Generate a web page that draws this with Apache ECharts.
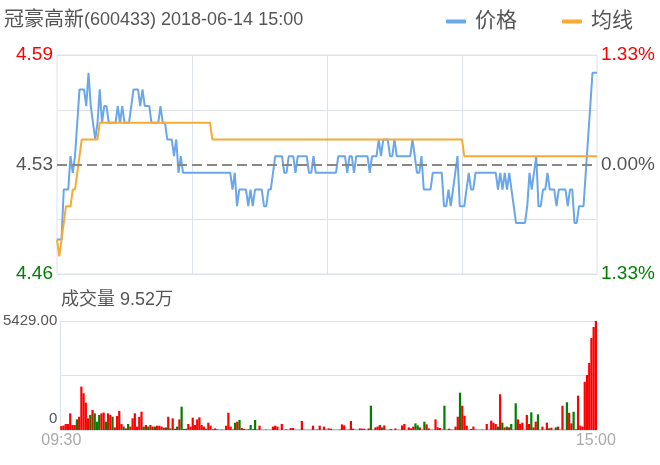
<!DOCTYPE html>
<html><head><meta charset="utf-8">
<script src="https://cdn.jsdelivr.net/npm/echarts@6/dist/echarts.min.js"></script>
<style>html,body{margin:0;padding:0;background:#fff}#c{width:660px;height:465px}</style>
</head><body><div id="c"></div>
<script>
const titleName = '冠豪高新';
const titleRest = '(600433) 2018-06-14 15:00';
const volTitle = '成交量 9.52万';
const seriesNames = ['价格', '均线'];
const preClose = 4.525;
const priceMin = 4.4594, priceMax = 4.5906;
const leftLabels = ['4.46', '', '4.53', '', '4.59'];
const rightLabels = ['1.33%', '', '0.00%', '', '1.33%'];
const volMax = 5429;
const volLabels = { top: '5429.00', bottom: '0' };
const timeLabels = ['09:30', '15:00'];

const price = [
4.48,4.48,4.48,4.51,4.51,4.51,4.53,4.52,4.53,4.55,
4.57,4.57,4.57,4.56,4.58,4.56,4.55,4.54,4.55,4.57,
4.55,4.56,4.56,4.55,4.55,4.55,4.55,4.56,4.55,4.56,
4.55,4.55,4.55,4.56,4.57,4.57,4.57,4.56,4.57,4.56,
4.56,4.56,4.55,4.55,4.55,4.55,4.56,4.55,4.55,4.54,
4.54,4.54,4.53,4.54,4.52,4.53,4.52,4.52,4.52,4.52,
4.52,4.52,4.52,4.52,4.52,4.52,4.52,4.52,4.52,4.52,
4.52,4.52,4.52,4.52,4.52,4.52,4.52,4.52,4.51,4.52,
4.50,4.51,4.51,4.51,4.51,4.50,4.51,4.50,4.51,4.51,
4.51,4.51,4.50,4.50,4.51,4.51,4.52,4.53,4.53,4.53,
4.53,4.52,4.52,4.53,4.53,4.53,4.52,4.53,4.53,4.53,
4.53,4.53,4.52,4.52,4.53,4.52,4.52,4.52,4.52,4.52,
4.52,4.52,4.52,4.52,4.52,4.53,4.53,4.53,4.53,4.52,
4.53,4.53,4.52,4.53,4.53,4.53,4.53,4.53,4.53,4.52,
4.53,4.53,4.53,4.54,4.53,4.54,4.54,4.54,4.53,4.53,
4.54,4.53,4.53,4.53,4.53,4.53,4.53,4.53,4.54,4.53,
4.52,4.52,4.53,4.51,4.51,4.51,4.51,4.52,4.52,4.52,
4.52,4.52,4.50,4.50,4.51,4.50,4.51,4.52,4.53,4.50,
4.50,4.50,4.51,4.52,4.51,4.51,4.52,4.52,4.52,4.52,
4.52,4.52,4.52,4.52,4.52,4.52,4.51,4.52,4.51,4.52,
4.51,4.52,4.51,4.50,4.49,4.49,4.49,4.49,4.49,4.50,
4.52,4.51,4.52,4.53,4.50,4.50,4.51,4.51,4.52,4.51,
4.51,4.51,4.50,4.51,4.51,4.51,4.51,4.50,4.51,4.51,
4.49,4.49,4.50,4.50,4.50,4.52,4.54,4.56,4.58,4.58,
4.58
];

const avgPrice = [
4.48,4.47,4.48,4.49,4.50,4.50,4.50,4.51,4.51,4.52,
4.53,4.54,4.54,4.54,4.54,4.54,4.54,4.54,4.54,4.55,
4.55,4.55,4.55,4.55,4.55,4.55,4.55,4.55,4.55,4.55,
4.55,4.55,4.55,4.55,4.55,4.55,4.55,4.55,4.55,4.55,
4.55,4.55,4.55,4.55,4.55,4.55,4.55,4.55,4.55,4.55,
4.55,4.55,4.55,4.55,4.55,4.55,4.55,4.55,4.55,4.55,
4.55,4.55,4.55,4.55,4.55,4.55,4.55,4.55,4.55,4.54,
4.54,4.54,4.54,4.54,4.54,4.54,4.54,4.54,4.54,4.54,
4.54,4.54,4.54,4.54,4.54,4.54,4.54,4.54,4.54,4.54,
4.54,4.54,4.54,4.54,4.54,4.54,4.54,4.54,4.54,4.54,
4.54,4.54,4.54,4.54,4.54,4.54,4.54,4.54,4.54,4.54,
4.54,4.54,4.54,4.54,4.54,4.54,4.54,4.54,4.54,4.54,
4.54,4.54,4.54,4.54,4.54,4.54,4.54,4.54,4.54,4.54,
4.54,4.54,4.54,4.54,4.54,4.54,4.54,4.54,4.54,4.54,
4.54,4.54,4.54,4.54,4.54,4.54,4.54,4.54,4.54,4.54,
4.54,4.54,4.54,4.54,4.54,4.54,4.54,4.54,4.54,4.54,
4.54,4.54,4.54,4.54,4.54,4.54,4.54,4.54,4.54,4.54,
4.54,4.54,4.54,4.54,4.54,4.54,4.54,4.54,4.54,4.54,
4.54,4.53,4.53,4.53,4.53,4.53,4.53,4.53,4.53,4.53,
4.53,4.53,4.53,4.53,4.53,4.53,4.53,4.53,4.53,4.53,
4.53,4.53,4.53,4.53,4.53,4.53,4.53,4.53,4.53,4.53,
4.53,4.53,4.53,4.53,4.53,4.53,4.53,4.53,4.53,4.53,
4.53,4.53,4.53,4.53,4.53,4.53,4.53,4.53,4.53,4.53,
4.53,4.53,4.53,4.53,4.53,4.53,4.53,4.53,4.53,4.53,
4.53
];

const volume = [
200,220,300,300,830,250,250,530,660,2160,
1830,1360,580,750,1000,830,415,750,830,870,
415,830,750,660,130,700,950,300,170,80,
300,170,580,830,170,660,910,170,250,170,
250,170,170,215,215,170,115,130,660,80,
580,60,170,530,1160,50,60,300,170,615,
250,530,630,250,170,60,365,215,40,80,
40,20,30,20,215,860,170,30,365,415,
500,100,60,30,40,250,40,500,30,215,
20,20,30,20,20,170,215,170,20,300,
20,40,20,100,100,20,20,20,450,20,
20,20,20,215,20,30,215,20,170,30,
80,65,20,20,20,30,280,230,20,30,
450,65,20,20,80,65,65,20,80,1210,
20,130,170,250,130,230,20,20,50,20,
80,20,20,230,300,20,130,80,170,330,
230,130,20,415,280,80,20,20,530,130,
100,20,1210,20,65,30,20,170,660,1860,
1210,710,215,20,50,170,30,20,20,30,
20,300,20,465,365,300,170,1780,365,130,
170,130,300,20,1330,530,300,365,20,750,
300,880,130,415,780,20,170,20,365,80,
115,20,130,170,20,1210,20,1380,860,330,
910,40,1710,215,170,2400,2740,3340,4580,5130,
5429
];

// minute categories 09:30-11:30, 13:01-15:00
const categories = [];
function pad(n){return (n<10?'0':'')+n;}
for (let m = 9*60+30; m <= 11*60+30; m++) categories.push(pad(Math.floor(m/60))+':'+pad(m%60));
for (let m = 13*60+1; m <= 15*60; m++) categories.push(pad(Math.floor(m/60))+':'+pad(m%60));

const volData = volume.map((v, i) => ({
  value: v,
  itemStyle: { color: (i > 0 && price[i] < price[i-1]) ? '#008000' : '#ff0000' }
}));

const FONT = '"Liberation Sans", "Noto Sans CJK SC", sans-serif';
const gridColor = '#dde1ea';
const last = categories.length - 1;

const chart = echarts.init(document.getElementById('c'), null, { renderer: 'canvas' });
chart.setOption({
  animation: false,
  textStyle: { fontFamily: FONT },
  title: [
    { text: '{a|' + titleName + '}{b|' + titleRest + '}', left: -1, top: 5,
      textStyle: { fontWeight: 'normal', rich: {
        a: { fontSize: 20, color: '#555', fontWeight: 'normal', fontFamily: FONT },
        b: { fontSize: 18, color: '#555', fontWeight: 'normal', fontFamily: FONT }
      } } },
    { text: volTitle, left: 56, top: 286, textStyle: { fontSize: 18, fontWeight: 'normal', color: '#555', fontFamily: FONT } }
  ],
  legend: {
    data: seriesNames, right: 22, top: 6, itemWidth: 20, itemHeight: 4, itemGap: 45,
    icon: 'roundRect',
    textStyle: { fontSize: 21, color: '#555', fontFamily: FONT, padding: [0, 0, 0, 4] }
  },
  grid: [
    { left: 57, right: 63, top: 55, height: 219, show: true, borderColor: gridColor, borderWidth: 1 },
    { left: 57, right: 63, top: 321, height: 109 }
  ],
  xAxis: [
    { type: 'category', gridIndex: 0, data: categories, boundaryGap: false,
      axisLine: { show: false }, axisTick: { show: false }, axisLabel: { show: false },
      splitLine: { show: true, interval: (i) => i === 60 || i === 120 || i === 180, lineStyle: { color: gridColor, width: 1 } } },
    { type: 'category', gridIndex: 1, data: categories, boundaryGap: true,
      axisLine: { show: true, lineStyle: { color: gridColor } }, axisTick: { show: false },
      axisLabel: { interval: (i) => i === 0 || i === last, formatter: (v, i) => i === 0 ? timeLabels[0] : (i === last ? timeLabels[1] : ''),
        color: '#aaa', fontSize: 16, margin: 3, fontFamily: FONT },
      splitLine: { show: false } }
  ],
  yAxis: [
    { type: 'value', gridIndex: 0, position: 'left', min: 0, max: 4, interval: 1,
      axisLine: { show: false }, axisTick: { show: false },
      axisLabel: { formatter: (v) => leftLabels[Math.round(v)] || '', fontSize: 19, margin: 4, fontFamily: FONT,
        color: (v) => v > 3 ? '#ff0000' : (v < 1 ? '#008000' : '#555') },
      splitLine: { show: true, lineStyle: { color: [gridColor, gridColor, 'rgba(0,0,0,0)', gridColor, gridColor], width: 1 } } },
    { type: 'value', gridIndex: 0, position: 'right', min: 0, max: 4, interval: 1,
      axisLine: { show: false }, axisTick: { show: false },
      axisLabel: { formatter: (v) => rightLabels[Math.round(v)] || '', fontSize: 19, margin: 4, fontFamily: FONT,
        color: (v) => v > 3 ? '#ff0000' : (v < 1 ? '#008000' : '#555') },
      splitLine: { show: false } },
    { type: 'value', gridIndex: 0, min: priceMin, max: priceMax, show: false, splitLine: { show: false } },
    { type: 'value', gridIndex: 1, min: 0, max: volMax, interval: volMax / 2,
      axisLine: { show: true, lineStyle: { color: gridColor } }, axisTick: { show: false },
      axisLabel: { fontSize: 15, color: '#555', margin: 3, fontFamily: FONT,
        formatter: (v) => v === 0 ? '{z|' + volLabels.bottom + '}' : (v >= volMax ? volLabels.top : ''),
        rich: { z: { fontSize: 15, color: '#555', padding: [0, 0, 22, 0], fontFamily: FONT } } },
      splitLine: { show: true, lineStyle: { color: gridColor, width: 1 } } }
  ],
  series: [
    { name: seriesNames[0], type: 'line', xAxisIndex: 0, yAxisIndex: 2, data: price, symbol: 'none',
      lineStyle: { color: '#6aa6ea', width: 2 }, itemStyle: { color: '#6aa6ea' },
      markLine: { silent: true, symbol: 'none', precision: 4, label: { show: false },
        lineStyle: { color: '#888', type: [10, 5], width: 2 }, data: [{ yAxis: preClose }] } },
    { name: seriesNames[1], type: 'line', xAxisIndex: 0, yAxisIndex: 2, data: avgPrice, symbol: 'none',
      lineStyle: { color: '#f8aa35', width: 2 }, itemStyle: { color: '#f8aa35' } },
    { name: '成交量', type: 'bar', xAxisIndex: 1, yAxisIndex: 3, data: volData, barCategoryGap: '0%' }
  ]
});
</script>
</body></html>
